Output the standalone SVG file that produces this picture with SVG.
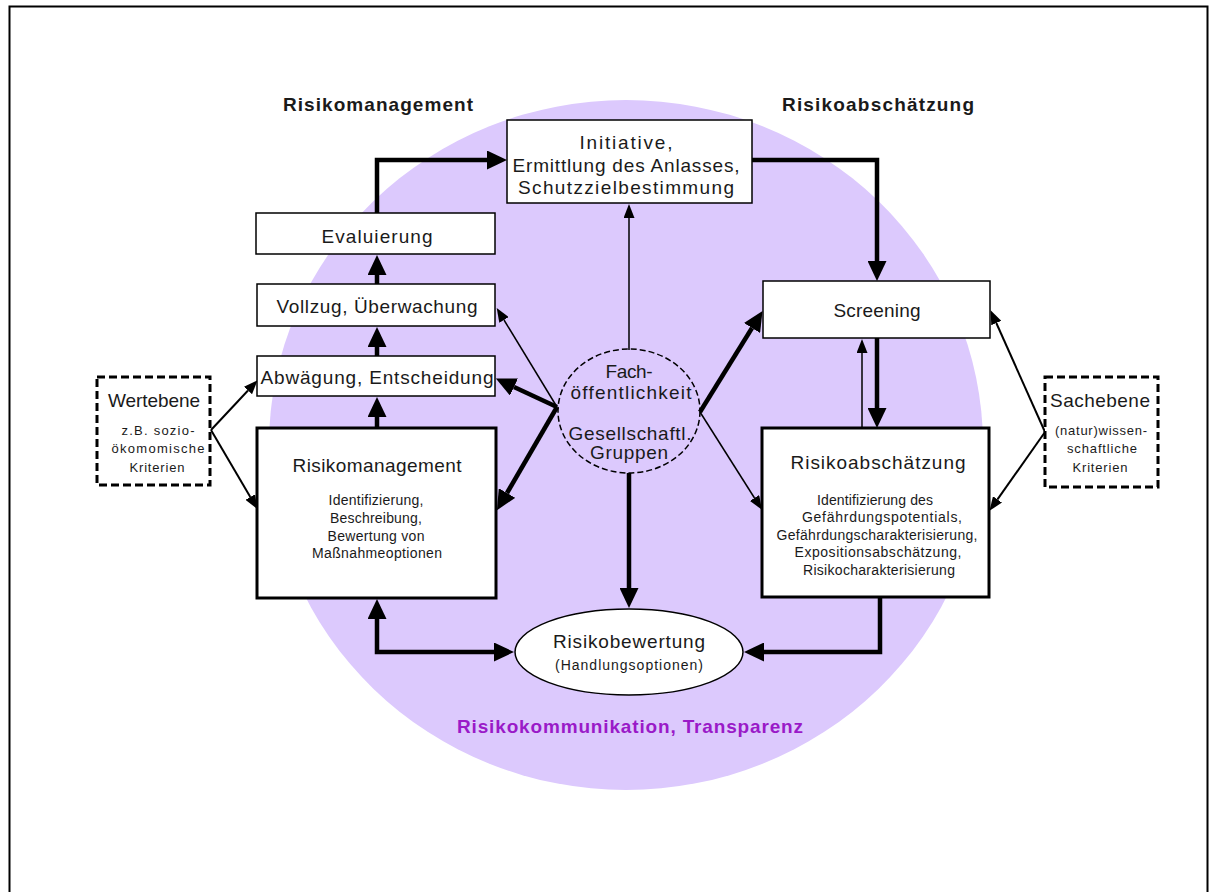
<svg xmlns="http://www.w3.org/2000/svg" width="1217" height="892" viewBox="0 0 1217 892">
<defs>
<style>
text{font-family:"Liberation Sans",Arial,sans-serif;fill:#1a1a1a;text-anchor:middle}
.h{font-size:19px;font-weight:bold}
.t{font-size:19px}
.s{font-size:14px}
.w{font-size:13px}
.box{fill:#fff;stroke:#000;stroke-width:1.5}
.bbox{fill:#fff;stroke:#000;stroke-width:3}
.dbox{fill:#fff;stroke:#000;stroke-width:3;stroke-dasharray:8 4}
.thick{fill:none;stroke:#000;stroke-width:4.5;marker-end:url(#big)}
.thin{fill:none;stroke:#000;stroke-width:1.5;marker-end:url(#small)}
.med{fill:none;stroke:#000;stroke-width:2;marker-end:url(#small)}
</style>
<marker id="big" viewBox="0 0 10 10" refX="0" refY="5" markerWidth="20" markerHeight="19" markerUnits="userSpaceOnUse" orient="auto-start-reverse" preserveAspectRatio="none"><path d="M0,0 L10,5 L0,10 z" fill="#000"/></marker>
<marker id="small" viewBox="0 0 10 10" refX="0" refY="5" markerWidth="14" markerHeight="11" markerUnits="userSpaceOnUse" orient="auto-start-reverse" preserveAspectRatio="none"><path d="M0,0 L10,5 L0,10 z" fill="#000"/></marker>
</defs>
<rect x="0" y="0" width="1217" height="892" fill="#fff"/>
<rect x="9.5" y="6.5" width="1198" height="900" fill="none" stroke="#000" stroke-width="2"/>
<ellipse cx="626" cy="445" rx="357" ry="345" fill="#dcc9fd"/>
<text class="h" x="378" y="111" textLength="190">Risikomanagement</text>
<text class="h" x="878" y="111" textLength="192">Risikoabschätzung</text>
<text class="h" x="630" y="733" textLength="346" style="fill:#9a1ac8">Risikokommunikation, Transparenz</text>
<g id="connectors">
<path class="thick" d="M377,213 V160 H487"/>
<path class="thick" d="M751,160 H877 V261"/>
<path class="thick" d="M377,284 V275"/>
<path class="thick" d="M377,356 V347"/>
<path class="thick" d="M377,428 V417"/>
<path class="thin" d="M629,350 V218"/>
<path class="thick" d="M877,338 V408"/>
<path class="thin" d="M862,428 V353"/>
<path class="thick" d="M557,407 L514,387"/>
<path class="thick" d="M557,407 L507,493"/>
<path class="thin" d="M557,407 L504,320"/>
<path class="thick" d="M700,412 L752,328"/>
<path class="thin" d="M700,412 L754.5,498"/>
<path class="thick" d="M629,473 V588"/>
<path class="thick" d="M377,619 V652 H494" marker-start="url(#big)"/>
<path class="thick" d="M880,597 V652 H764"/>
<path class="med" d="M211,430 L248,390.5"/>
<path class="med" d="M211,430 L250.3,497"/>
<path class="med" d="M1045,432 L996.3,323"/>
<path class="med" d="M1045,432 L997.5,499.4"/>
</g>
<g id="initiative">
<rect class="box" x="507" y="120" width="245" height="83"/>
<text class="t" x="626" y="149" textLength="93">Initiative,</text>
<text class="t" x="626" y="172" textLength="227">Ermittlung des Anlasses,</text>
<text class="t" x="626" y="194" textLength="216">Schutzzielbestimmung</text>
</g>
<g id="evaluierung">
<rect class="box" x="256" y="213" width="239" height="41"/>
<text class="t" x="377" y="243" textLength="111">Evaluierung</text>
</g>
<g id="vollzug">
<rect class="box" x="257" y="284" width="238" height="42"/>
<text class="t" x="377" y="313" textLength="201">Vollzug, Überwachung</text>
</g>
<g id="abwaegung">
<rect class="box" x="257" y="356" width="238" height="40"/>
<text class="t" x="377" y="384" textLength="233">Abwägung, Entscheidung</text>
</g>
<g id="risikomanagement">
<rect class="bbox" x="257" y="428" width="239" height="170"/>
<text class="t" x="377" y="472" textLength="169">Risikomanagement</text>
<text class="s" x="376" y="505" textLength="95">Identifizierung,</text>
<text class="s" x="376" y="523" textLength="92">Beschreibung,</text>
<text class="s" x="376" y="541" textLength="97">Bewertung von</text>
<text class="s" x="377" y="558" textLength="130">Maßnahmeoptionen</text>
</g>
<g id="screening">
<rect class="box" x="763" y="281" width="227" height="57"/>
<text class="t" x="877" y="317" textLength="87">Screening</text>
</g>
<g id="risikoabschaetzung">
<rect class="bbox" x="762" y="428" width="227" height="169"/>
<text class="t" x="878" y="469" textLength="175">Risikoabschätzung</text>
<text class="s" x="875" y="505" textLength="116">Identifizierung des</text>
<text class="s" x="882" y="522" textLength="160">Gefährdungspotentials,</text>
<text class="s" x="877" y="540" textLength="201">Gefährdungscharakterisierung,</text>
<text class="s" x="878" y="557" textLength="167">Expositionsabschätzung,</text>
<text class="s" x="879" y="575" textLength="152">Risikocharakterisierung</text>
</g>
<g id="gesellschaft">
<ellipse cx="629" cy="411" rx="71" ry="62" fill="none" stroke="#000" stroke-width="1.5" stroke-dasharray="6 3"/>
<text class="t" x="629" y="378" textLength="47">Fach-</text>
<text class="t" x="631" y="399" textLength="121">öffentlichkeit</text>
<text class="t" x="630" y="440" textLength="123">Gesellschaftl.</text>
<text class="t" x="629" y="459" textLength="78">Gruppen</text>
</g>
<g id="risikobewertung">
<ellipse cx="629" cy="652" rx="114" ry="43" fill="#fff" stroke="#000" stroke-width="1.5"/>
<text class="t" x="629" y="648" textLength="152">Risikobewertung</text>
<text class="s" x="629" y="670" textLength="148">(Handlungsoptionen)</text>
</g>
<g id="wertebene">
<rect class="dbox" x="97" y="377" width="113" height="108"/>
<text class="t" x="154" y="407" textLength="92">Wertebene</text>
<text class="w" x="158" y="435" textLength="73">z.B. sozio-</text>
<text class="w" x="158" y="453" textLength="93">ökomomische</text>
<text class="w" x="157" y="472" textLength="55">Kriterien</text>
</g>
<g id="sachebene">
<rect class="dbox" x="1045" y="377" width="113" height="110"/>
<text class="t" x="1100" y="407" textLength="100">Sachebene</text>
<text class="w" x="1101" y="435" textLength="92">(natur)wissen-</text>
<text class="w" x="1102" y="453" textLength="70">schaftliche</text>
<text class="w" x="1100" y="472" textLength="55">Kriterien</text>
</g>
</svg>
